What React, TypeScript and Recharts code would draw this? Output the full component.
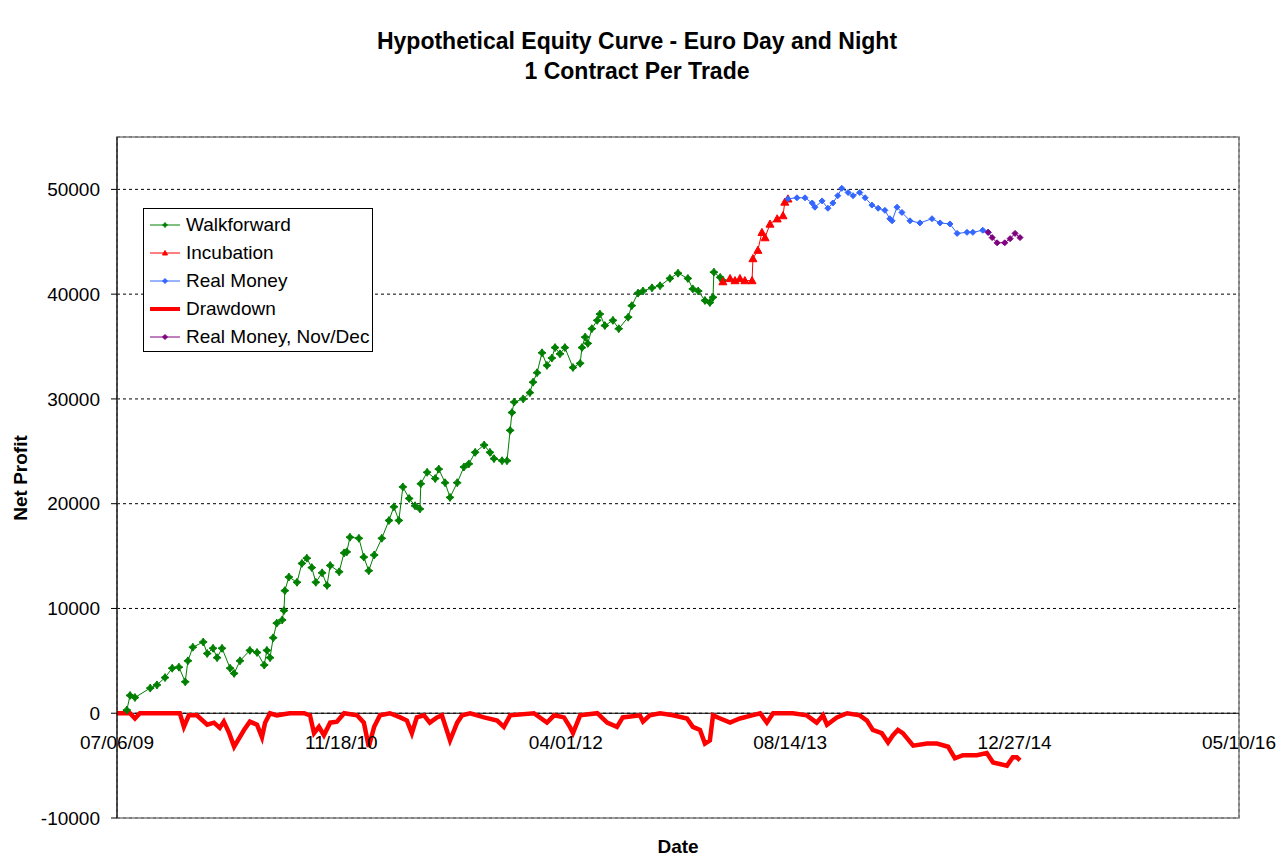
import React from 'react';
import {
  LineChart,
  Line,
  XAxis,
  YAxis,
  CartesianGrid,
  ReferenceLine,
  ReferenceArea,
  ReferenceDot,
  Legend,
} from 'recharts';

// x = days since 07/06/09, y = net profit ($)
const tickDays = [0, 500, 1000, 1500, 2000, 2500];
const tickLabels = ['07/06/09', '11/18/10', '04/01/12', '08/14/13', '12/27/14', '05/10/16'];
const yTicks = [-10000, 0, 10000, 20000, 30000, 40000, 50000];

const walkforward: [number, number][] = [
  [22, 300], [29, 1700], [40, 1500], [74, 2400], [89, 2700], [107, 3400], [123, 4300],
  [138, 4400], [152, 3000], [158, 5000], [169, 6300], [192, 6800], [201, 5700], [214, 6200],
  [223, 5300], [234, 6200], [252, 4300], [261, 3800], [274, 5000], [296, 6000], [312, 5800],
  [328, 4600], [334, 6000], [341, 5300], [348, 7200], [356, 8600], [368, 8900], [372, 9800],
  [374, 11700], [383, 13000], [401, 12500], [412, 14300], [423, 14800], [434, 13900],
  [443, 12500], [457, 13400], [468, 12200], [475, 14100], [495, 13500], [506, 15300],
  [512, 15400], [519, 16800], [539, 16700], [550, 14900], [561, 13600], [573, 15100],
  [590, 16700], [606, 18400], [617, 19700], [628, 18400], [637, 21600], [651, 20500],
  [664, 19800], [675, 19500], [677, 21900], [691, 23000], [709, 22400], [717, 23300],
  [731, 22000], [742, 20600], [758, 22000], [773, 23500], [784, 23800], [798, 24900],
  [818, 25600], [831, 24900], [840, 24300], [858, 24100], [869, 24100], [876, 27000],
  [880, 28700], [885, 29700], [905, 30000], [920, 30600], [927, 31600], [936, 32500],
  [947, 34400], [958, 33200], [969, 33900], [976, 34900], [987, 34300], [998, 34900],
  [1016, 33000], [1032, 33400], [1036, 34900], [1043, 35900], [1049, 35300], [1058, 36700],
  [1070, 37500], [1076, 38100], [1087, 37000], [1105, 37500], [1118, 36700], [1139, 37800],
  [1147, 38900], [1161, 40100], [1172, 40300], [1192, 40600], [1210, 40800], [1232, 41500],
  [1250, 42000], [1272, 41500], [1283, 40500], [1295, 40300], [1310, 39400], [1321, 39200],
  [1328, 39700], [1330, 42100], [1344, 41600], [1350, 41300],
];

const incubation: [number, number][] = [
  [1350, 41200], [1366, 41500], [1377, 41300], [1388, 41500], [1399, 41300], [1415, 41300],
  [1417, 43400], [1428, 44200], [1437, 45900], [1444, 45400], [1455, 46700], [1471, 47200],
  [1484, 47500], [1488, 48800], [1495, 49100],
];

const realMoney: [number, number][] = [
  [1495, 49100], [1515, 49200], [1533, 49200], [1549, 48700], [1555, 48300], [1571, 48900],
  [1584, 48200], [1595, 48700], [1606, 49400], [1615, 50100], [1629, 49700], [1640, 49400],
  [1655, 49700], [1667, 49200], [1682, 48500], [1696, 48200], [1711, 48000], [1722, 47200],
  [1727, 47000], [1738, 48300], [1749, 47800], [1767, 47000], [1789, 46800], [1816, 47200],
  [1834, 46800], [1856, 46700], [1872, 45800], [1894, 45900], [1907, 45900], [1929, 46100],
  [1941, 45900],
];

const realMoneyNovDec: [number, number][] = [
  [1941, 45900], [1950, 45400], [1961, 44900], [1978, 44900], [1990, 45300], [2001, 45800],
  [2012, 45400],
];

const drawdown: [number, number][] = [
  [0, 0], [29, 0], [40, -500], [51, 0], [140, 0], [149, -1300], [160, -200], [178, -200],
  [201, -1100], [216, -900], [229, -1400], [238, -800], [250, -1900], [261, -3200],
  [272, -2400], [283, -1600], [296, -800], [312, -1100], [323, -2300], [330, -900], [341, 0],
  [356, -200], [385, 0], [417, 0], [430, -200], [439, -1900], [450, -1300], [461, -2100],
  [475, -900], [490, -800], [506, 0], [535, -200], [550, -900], [561, -3200], [573, -1300],
  [586, -200], [608, 0], [631, -400], [646, -700], [657, -1900], [668, -400], [684, -200],
  [697, -900], [713, -400], [724, -200], [742, -2600], [758, -900], [769, -200], [787, 0],
  [818, -400], [847, -700], [862, -1300], [876, -200], [929, 0], [958, -900], [974, -200],
  [996, -400], [1009, -1300], [1016, -1900], [1032, -200], [1070, 0], [1092, -900],
  [1114, -1300], [1127, -400], [1165, -200], [1172, -800], [1187, -200], [1210, 0],
  [1239, -200], [1270, -500], [1283, -1300], [1299, -1600], [1310, -2900], [1321, -2600],
  [1328, -200], [1344, -500], [1366, -900], [1388, -500], [1415, -200], [1433, 0],
  [1448, -900], [1462, 0], [1506, 0], [1537, -200], [1559, -900], [1573, -200], [1582, -1100],
  [1604, -400], [1627, 0], [1655, -200], [1671, -700], [1684, -1600], [1704, -1900],
  [1718, -2800], [1729, -2100], [1740, -1600], [1751, -1900], [1774, -3100], [1805, -2900],
  [1827, -2900], [1852, -3200], [1867, -4300], [1885, -4000], [1916, -4000], [1938, -3800],
  [1952, -4700], [1983, -5000], [1996, -4200], [2005, -4200], [2012, -4500],
];

const toRows = (arr: [number, number][]) => arr.map(([day, v]) => ({ day, v }));

const GREEN = '#008000';
const RED = '#FF0000';
const BLUE = '#3366FF';
const PURPLE = '#800080';
const FONT = 'Arial, "Liberation Sans", sans-serif';

type Shape = 'star' | 'triangle' | 'diamond';

const markerPath = (shape: Shape, cx: number, cy: number, s: number) => {
  if (shape === 'triangle') {
    return `M${cx},${cy - s}L${cx + s},${cy + s * 0.8}L${cx - s},${cy + s * 0.8}Z`;
  }
  if (shape === 'star') {
    const t = s * 0.4;
    return `M${cx},${cy - s}L${cx + t},${cy - t}L${cx + s},${cy}L${cx + t},${cy + t}L${cx},${cy + s}L${cx - t},${cy + t}L${cx - s},${cy}L${cx - t},${cy - t}Z`;
  }
  return `M${cx},${cy - s}L${cx + s},${cy}L${cx},${cy + s}L${cx - s},${cy}Z`;
};

const makeDot = (shape: Shape, color: string, s: number) => (props: any) => {
  const { cx, cy, index } = props;
  if (cx == null || cy == null) return <g key={`d-${index}`} />;
  return (
    <path
      key={`d-${shape}-${index}`}
      d={markerPath(shape, cx, cy, s)}
      fill={color}
      stroke={color}
      strokeWidth={1}
    />
  );
};

const legendItems: { name: string; color: string; shape: Shape | null; width: number }[] = [
  { name: 'Walkforward', color: GREEN, shape: 'star', width: 1 },
  { name: 'Incubation', color: RED, shape: 'triangle', width: 1 },
  { name: 'Real Money', color: BLUE, shape: 'diamond', width: 1 },
  { name: 'Drawdown', color: RED, shape: null, width: 4 },
  { name: 'Real Money, Nov/Dec', color: PURPLE, shape: 'diamond', width: 1 },
];

const LegendBox = () => (
  <div
    style={{
      width: 228,
      height: 140,
      border: '1px solid #000',
      background: '#fff',
      fontFamily: FONT,
      fontSize: 19,
      color: '#000',
      boxSizing: 'content-box',
      paddingTop: 2,
      paddingBottom: 0,
    }}
  >
    {legendItems.map((it) => (
      <div key={it.name} style={{ height: 28, display: 'flex', alignItems: 'center' }}>
        <svg width={42} height={28} style={{ flex: 'none' }}>
          <line x1={6} x2={36} y1={14} y2={14} stroke={it.color} strokeWidth={it.width} />
          {it.shape ? (
            <path d={markerPath(it.shape, 21, 14, 2.5)} fill={it.color} stroke={it.color} />
          ) : (
            <rect x={19} y={12} width={4} height={4} fill={it.color} />
          )}
        </svg>
        <span style={{ whiteSpace: 'nowrap' }}>{it.name}</span>
      </div>
    ))}
  </div>
);

const W = 1281;
const H = 857;
const Y_AXIS_W = 80;
const X_AXIS_H = 30;

export default function App() {
  return (
    <div style={{ position: 'absolute', left: 0, top: 0, width: W, height: H, background: '#fff', overflow: 'hidden' }}>
      <div
        style={{
          position: 'absolute',
          left: 0,
          width: 1274,
          top: 26,
          textAlign: 'center',
          fontFamily: FONT,
          fontWeight: 'bold',
          fontSize: 23,
          lineHeight: '30px',
          color: '#000',
        }}
      >
        <div>Hypothetical Equity Curve - Euro Day and Night</div>
        <div>1 Contract Per Trade</div>
      </div>
      <div
        style={{
          position: 'absolute',
          left: 20,
          top: 478,
          transform: 'translate(-50%, -50%) rotate(-90deg)',
          fontFamily: FONT,
          fontWeight: 'bold',
          fontSize: 19,
          lineHeight: '19px',
          whiteSpace: 'nowrap',
        }}
      >
        Net Profit
      </div>
      <div
        style={{
          position: 'absolute',
          left: 678,
          top: 846,
          transform: 'translate(-50%, -50%)',
          fontFamily: FONT,
          fontWeight: 'bold',
          fontSize: 19,
          lineHeight: '19px',
          whiteSpace: 'nowrap',
        }}
      >
        Date
      </div>
      <LineChart
        width={W}
        height={H}
        margin={{ top: 137, right: 42, bottom: H - 818 - X_AXIS_H, left: 117 - Y_AXIS_W }}
        style={{ position: 'absolute', left: 0, top: 0 }}
      >
        <CartesianGrid stroke="#000" strokeDasharray="3 3" strokeWidth={1} />
        <XAxis
          type="number"
          dataKey="day"
          domain={[0, 2500]}
          ticks={tickDays}
          allowDataOverflow
          axisLine={false}
          tickLine={false}
          tick={false}
          height={X_AXIS_H}
        />
        <YAxis
          type="number"
          domain={[-10000, 55000]}
          ticks={yTicks}
          allowDataOverflow
          width={Y_AXIS_W}
          axisLine={{ stroke: '#000' }}
          tickLine={{ stroke: '#000' }}
          tickSize={6}
          tickMargin={11}
          tick={{ fill: '#000', fontSize: 19, fontFamily: FONT }}
        />
        <ReferenceArea
          x1={0}
          x2={2500}
          y1={-10000}
          y2={55000}
          fill="none"
          stroke="#808080"
          strokeWidth={1.5}
          ifOverflow="visible"
        />
        <ReferenceLine y={0} stroke="#000" strokeWidth={1.2} />
        {tickDays.map((d, i) => (
          <ReferenceDot
            key={`lbl-${d}`}
            x={d}
            y={0}
            r={0}
            fill="none"
            stroke="none"
            ifOverflow="visible"
            label={{
              value: tickLabels[i],
              position: 'bottom',
              offset: 22,
              fill: '#000',
              fontSize: 19,
              fontFamily: FONT,
            }}
          />
        ))}
        <Line
          data={toRows(drawdown)}
          dataKey="v"
          name="Drawdown"
          stroke={RED}
          strokeWidth={4.5}
          dot={false}
          strokeLinejoin="miter"
          isAnimationActive={false}
        />
        <Line
          data={toRows(walkforward)}
          dataKey="v"
          name="Walkforward"
          stroke={GREEN}
          strokeWidth={1}
          dot={makeDot('star', GREEN, 4)}
          isAnimationActive={false}
        />
        <Line
          data={toRows(incubation)}
          dataKey="v"
          name="Incubation"
          stroke={RED}
          strokeWidth={1}
          dot={makeDot('triangle', RED, 4)}
          isAnimationActive={false}
        />
        <Line
          data={toRows(realMoney)}
          dataKey="v"
          name="Real Money"
          stroke={BLUE}
          strokeWidth={1}
          dot={makeDot('diamond', BLUE, 3)}
          isAnimationActive={false}
        />
        <Line
          data={toRows(realMoneyNovDec)}
          dataKey="v"
          name="Real Money, Nov/Dec"
          stroke={PURPLE}
          strokeWidth={1}
          dot={makeDot('diamond', PURPLE, 3)}
          isAnimationActive={false}
        />
        <Legend
          layout="horizontal"
          align="center"
          verticalAlign="middle"
          wrapperStyle={{ position: 'absolute', left: 143, top: 208, width: 'auto', height: 'auto' }}
          content={() => <LegendBox />}
        />
      </LineChart>
    </div>
  );
}
